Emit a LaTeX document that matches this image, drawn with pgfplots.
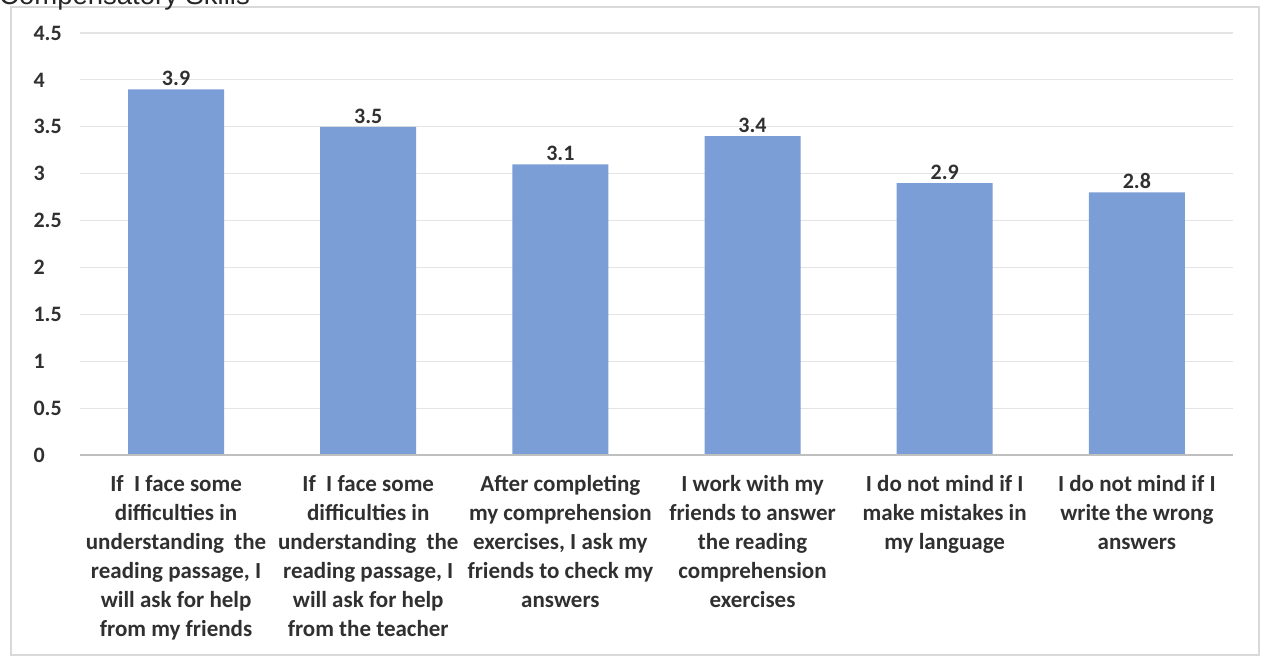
\documentclass[border=0pt]{standalone}
\usepackage{pgfplots}
\pgfplotsset{compat=1.18}
\usepackage{fontspec}
\setmainfont{Carlito}
\newfontfamily\titlefont{Liberation Sans}
\definecolor{barblue}{RGB}{123,158,214}
\definecolor{gridgray}{RGB}{228,228,228}
\definecolor{axisgray}{RGB}{191,191,191}
\definecolor{framegray}{RGB}{217,217,217}
\definecolor{txt}{RGB}{48,48,48}
\begin{document}
\begin{tikzpicture}
\useasboundingbox (0pt,0pt) rectangle (1261pt,-657pt);
\draw[framegray, line width=1.2pt] (11pt,-7pt) rectangle (1259pt,-655pt);
\node[anchor=base west, inner sep=0pt, font=\titlefont\fontsize{27.5}{32}\selectfont, text=black!85] at (-1pt,-4pt) {Compensatory Skills};
\begin{axis}[
    at={(80pt,-455pt)}, anchor=south west,
    scale only axis,
    width=1153pt, height=422pt,
    ymin=0, ymax=4.5,
    xmin=-0.5, xmax=5.5,
    ytick={0,0.5,...,4.5},
    xtick=data,
    xticklabels={
      {If\ \ I face some\\difficulties in\\understanding\ \ the\\reading passage, I\\will ask for help\\from my friends},
      {If\ \ I face some\\difficulties in\\understanding\ \ the\\reading passage, I\\will ask for help\\from the teacher},
      {After completing\\my comprehension\\exercises, I ask my\\friends to check my\\answers},
      {I work with my\\friends to answer\\the reading\\comprehension\\exercises},
      {I do not mind if I\\make mistakes in\\my language},
      {I do not mind if I\\write the wrong\\answers}},
    ymajorgrids,
    major grid style={gridgray, line width=1.2pt},
    axis line style={draw=none},
    tick style={draw=none},
    /pgf/number format/assume math mode=true,
    yticklabel style={font=\bfseries\fontsize{22}{26}\selectfont, text=txt, anchor=west, xshift=-50pt},
    xticklabel style={font=\bfseries\fontsize{23}{29}\selectfont, text=txt, align=center, yshift=-13pt},
    ybar, bar width=96pt,
    nodes near coords,
    nodes near coords style={font=\bfseries\fontsize{22}{26}\selectfont, text=txt},
  ]
  \addplot[fill=barblue, draw=none] coordinates {(0,3.9) (1,3.5) (2,3.1) (3,3.4) (4,2.9) (5,2.8)};
  \draw[axisgray, line width=2.5pt] (rel axis cs:0,0) -- (rel axis cs:1,0);
\end{axis}
\end{tikzpicture}
\end{document}
